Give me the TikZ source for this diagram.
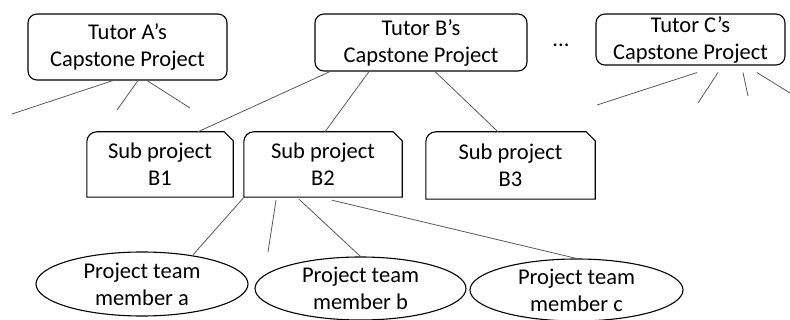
\documentclass[tikz,border=0pt]{standalone}
\usepackage{fontspec}
\setmainfont{Carlito}
\usetikzlibrary{shapes.geometric}

\tikzset{
    tutorbox/.style={draw, line width=1.1pt, rounded corners=9pt, align=center, inner sep=0pt},
    subbox/.style={align=center, inner sep=0pt},
    member/.style={draw, ellipse, line width=1.1pt, align=center, inner sep=0pt},
    link/.style={draw=black!65, line width=0.8pt},
}

\begin{document}
\begin{tikzpicture}[x=1pt, y=-1pt, font=\fontsize{22.5}{27}\selectfont]
        \useasboundingbox (0,0) rectangle (790,320);
        % tutors
        \node[tutorbox, minimum width=199pt, minimum height=66pt] (ta) at (127.5,47) {Tutor A's\\Capstone Project};
        \node[tutorbox, minimum width=212pt, minimum height=57pt] (tb) at (421,42.5) {Tutor B's\\Capstone Project};
        \node[tutorbox, minimum width=189pt, minimum height=51pt] (tc) at (690.5,39.5) {Tutor C's\\Capstone Project};
        \node (dots) at (561,45) {...};
        % sub projects
        \node[subbox, minimum width=146pt, minimum height=65pt] (b1) at (160,164.5) {Sub project\\B1};
        \node[subbox, minimum width=158pt, minimum height=65pt] (b2) at (323,164.5) {Sub project\\B2};
        \node[subbox, minimum width=169pt, minimum height=67pt] (b3) at (510.5,165.5) {Sub project\\B3};
        \foreach \n in {b1,b2,b3}
            \draw[line width=1.1pt] (\n.south west) -- ([yshift=-10pt]\n.north west)
                arc[start angle=180, end angle=90, radius=10pt]
                -- ([xshift=-9pt]\n.north east) -- ([yshift=-9pt]\n.north east)
                -- (\n.south east) -- cycle;
        % team members
        \node[member, minimum width=212pt, minimum height=64pt] (ea) at (142,284) {Project team\\member a};
        \node[member, minimum width=211pt, minimum height=63pt] (eb) at (360.5,288.5) {Project team\\member b};
        \node[member, minimum width=213pt, minimum height=62pt] (ec) at (576.5,290) {Project team\\member c};
        % free ends
        \coordinate (a1) at (12,114);
        \coordinate (a2) at (117,110);
        \coordinate (a3) at (190,108);
        \coordinate (c1) at (597,105);
        \coordinate (c2) at (698,103);
        \coordinate (c3) at (748,96);
        \coordinate (c4) at (790,93);
        \coordinate (m2) at (268,252);
        % links
        \draw[link] ([xshift=-14.5pt]ta.south) -- (a1);
        \draw[link] ([xshift=10.5pt]ta.south) -- (a2);
        \draw[link] ([xshift=19.5pt]ta.south) -- (a3);
        \draw[link] ([xshift=-91pt]tb.south) -- ([xshift=38pt]b1.north);
        \draw[link] ([xshift=-52pt]tb.south) -- ([xshift=2pt]b2.north);
        \draw[link] ([xshift=14pt]tb.south) -- ([xshift=-12.5pt]b3.north);
        \draw[link] ([shift={(6.5,7)}]tc.south) -- (c1);
        \draw[link] ([shift={(27.5,7)}]tc.south) -- (c2);
        \draw[link] ([shift={(52.5,7)}]tc.south) -- (c3);
        \draw[link] ([shift={(66.5,7)}]tc.south) -- (c4);
        \draw[link] ([xshift=-79pt]b2.south) -- ([shift={(50,-28)}]ea.center);
        \draw[link] ([shift={(-47,3)}]b2.south) -- (m2);
        \draw[link] ([shift={(-24,2)}]b2.south) -- (eb.north);
        \draw[link] ([shift={(9,3)}]b2.south) -- (ec.north);
\end{tikzpicture}
\end{document}
